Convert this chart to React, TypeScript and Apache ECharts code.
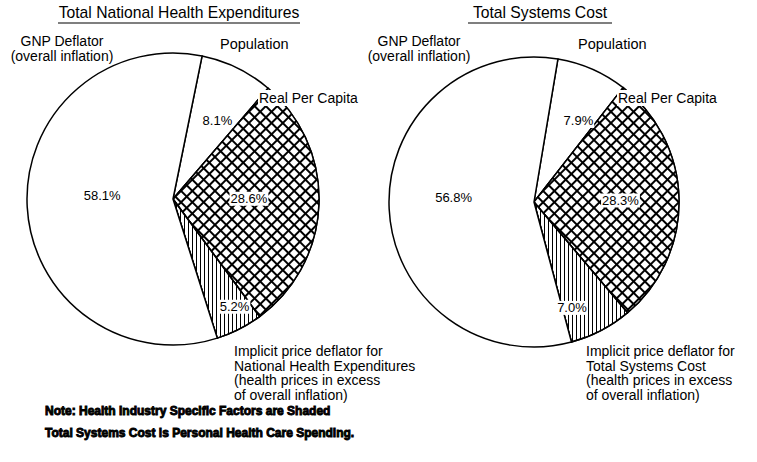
import { useEffect, useRef } from "react";
import * as echarts from "echarts";

// ---- data ----
const categories = ["Population", "Real Per Capita", "Implicit price deflator", "GNP Deflator"];
const nheValues = [8.1, 28.6, 5.2, 58.1];
const tscValues = [7.9, 28.3, 7.0, 56.8];
const titles = ["Total National Health Expenditures", "Total Systems Cost"];
const gnpLabelLines = ["GNP Deflator", "(overall inflation)"];
const implicitLabelLines = [
  ["Implicit price deflator for", "National Health Expenditures", "(health prices in excess", "of overall inflation)"],
  ["Implicit price deflator for", "Total Systems Cost", "(health prices in excess", "of overall inflation)"],
];
const notes = [
  "Note: Health Industry Specific Factors are Shaded",
  "Total Systems Cost is Personal Health Care Spending.",
];

// ---- layout / styles ----
const FONT = "Liberation Sans, Arial, Helvetica, sans-serif";
const PIES = [
  {
    center: [173, 199],
    radius: 146,
    startAngle: 78.5,
    offsets: [[11, -10], [0, -3], [27, 40], [5, -8]],
    title: { x: 179, y: 12, x1: 58, x2: 300 },
    gnp: { x: 62, y: 41 },
    pop: { x: 220, y: 44 },
    real: { x: 258, y: 98 },
    impl: { x: 234, y: 351 },
  },
  {
    center: [534, 202],
    radius: 145,
    startAngle: 80.5,
    offsets: [[14, -12], [11, 0], [3, 39], [-5, -8]],
    title: { x: 540, y: 12, x1: 468, x2: 612 },
    gnp: { x: 419, y: 41 },
    pop: { x: 578, y: 44 },
    real: { x: 617, y: 98 },
    impl: { x: 586, y: 351 },
  },
];

const sliceStyles = [
  { color: "#fff" },
  {
    color: "#000",
    decal: {
      symbol: "rect",
      color: "#fff",
      dashArrayX: [5.6, 1.7],
      dashArrayY: [5.6, 1.7],
      rotation: Math.PI / 4,
    },
  },
  {
    color: "#fff",
    decal: {
      symbol: "rect",
      color: "#000",
      dashArrayX: [1, 3],
      dashArrayY: [1, 0],
      rotation: 0,
    },
  },
  { color: "#fff" },
];

export default function App() {
  const ref = useRef<HTMLDivElement>(null);
  useEffect(() => {
    document.body.style.margin = "0";
    const chart = echarts.init(ref.current!, null, { renderer: "svg" });
    const seriesValues = [nheValues, tscValues];

    const series = PIES.map((p, si) => ({
      type: "pie",
      center: p.center,
      radius: p.radius,
      startAngle: p.startAngle,
      clockwise: true,
      silent: true,
      avoidLabelOverlap: false,
      emphasis: { disabled: true },
      itemStyle: { borderColor: "#000", borderWidth: 1.5 },
      label: {
        show: true,
        position: "inside",
        formatter: (q: any) => Number(q.value).toFixed(1) + "%",
        fontFamily: FONT,
        fontSize: 13,
        color: "#000",
        backgroundColor: "#fff",
        padding: [1, 1, 0, 1],
      },
      labelLine: { show: false },
      labelLayout: (params: any) => {
        const o = p.offsets[params.dataIndex];
        return { dx: o[0], dy: o[1] };
      },
      data: seriesValues[si].map((v, i) => ({
        name: categories[i],
        value: v,
        itemStyle: sliceStyles[i],
      })),
    }));

    const txt = (text: string, x: number, y: number, extra: any = {}) => ({
      type: "text",
      x,
      y,
      z: 100,
      silent: true,
      style: {
        text,
        fontFamily: FONT,
        fontSize: 14,
        fill: "#000",
        align: "left",
        verticalAlign: "middle",
        ...extra,
      },
    });

    const graphic: any[] = [];
    PIES.forEach((p, si) => {
      graphic.push(txt(titles[si], p.title.x, p.title.y, { fontSize: 15.7, align: "center" }));
      graphic.push({
        type: "line",
        z: 100,
        silent: true,
        shape: { x1: p.title.x1, y1: 23, x2: p.title.x2, y2: 23 },
        style: { stroke: "#000", lineWidth: 1.2 },
      });
      gnpLabelLines.forEach((line, li) => {
        graphic.push(txt(line, p.gnp.x, p.gnp.y + li * 14.5, { align: "center", fontSize: 14 }));
      });
      graphic.push(txt(categories[0], p.pop.x, p.pop.y, { fontSize: 14.5 }));
      graphic.push(
        txt(categories[1], p.real.x, p.real.y, {
          backgroundColor: "#fff",
          padding: [1, 1, 1, 1],
        })
      );
      implicitLabelLines[si].forEach((line, li) => {
        graphic.push(txt(line, p.impl.x, p.impl.y + li * 14.5));
      });
    });
    notes.forEach((n, i) => {
      graphic.push(
        txt(n, 45, 411 + i * 22, {
          fontWeight: "bold",
          fontSize: 12,
          stroke: "#000",
          lineWidth: 0.9,
        })
      );
    });

    chart.setOption({
      animation: false,
      backgroundColor: "#fff",
      series,
      graphic,
    });
    return () => chart.dispose();
  }, []);
  return <div ref={ref} style={{ width: 757, height: 462, position: "absolute", left: 0, top: 0 }} />;
}
